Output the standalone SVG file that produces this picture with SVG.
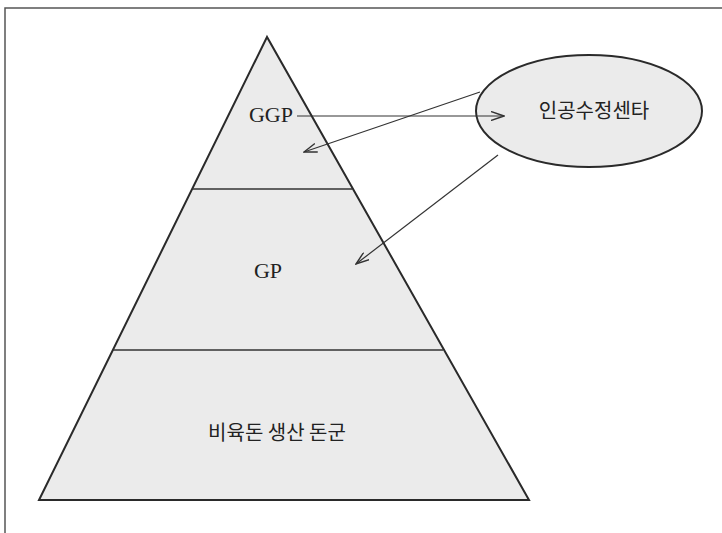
<svg xmlns="http://www.w3.org/2000/svg" width="722" height="533" viewBox="0 0 722 533">
<style>
.shape{fill:#ebebeb;stroke:#2a2a2a;stroke-width:2}
.div{stroke:#333;stroke-width:1.6;fill:none}
.lbl{font-family:"Liberation Serif",serif;font-size:22px;fill:#222;text-anchor:middle}
.kr{font-family:"Noto Sans CJK KR","Noto Sans",sans-serif;font-size:20px;fill:#222;text-anchor:middle}
.conn{stroke:#333;stroke-width:1.2;fill:none}
</style>
<defs>
<marker id="arr" viewBox="0 0 14 10" refX="13" refY="5" markerWidth="14" markerHeight="10" markerUnits="userSpaceOnUse" orient="auto">
<path d="M0,0.5 L13,5 L0,9.5" fill="none" stroke="#333" stroke-width="1.4"/>
</marker>
</defs>
<rect width="722" height="533" fill="#fff"/>
<path d="M5,533 V8 H722" fill="none" stroke="#555" stroke-width="1.5"/>
<g id="pyramid">
<polygon class="shape" points="267,37 39,500 529,500"/>
<line class="div" x1="192" y1="189" x2="352" y2="189"/>
<line class="div" x1="113" y1="350" x2="443" y2="350"/>
</g>
<g id="ggp"><text class="lbl" x="271" y="122">GGP</text></g>
<g id="gp"><text class="lbl" x="268" y="278">GP</text></g>
<g id="base"><text class="kr" x="277" y="440">비육돈 생산 돈군</text></g>
<g id="center">
<ellipse class="shape" cx="589" cy="111" rx="113" ry="56"/>
<text class="kr" x="594" y="118">인공수정센타</text>
</g>
<g id="connectors">
<line class="conn" x1="297" y1="116" x2="504" y2="116" marker-end="url(#arr)"/>
<line class="conn" x1="480" y1="92" x2="304" y2="152" marker-end="url(#arr)"/>
<line class="conn" x1="498" y1="155" x2="356" y2="264" marker-end="url(#arr)"/>
</g>
</svg>
